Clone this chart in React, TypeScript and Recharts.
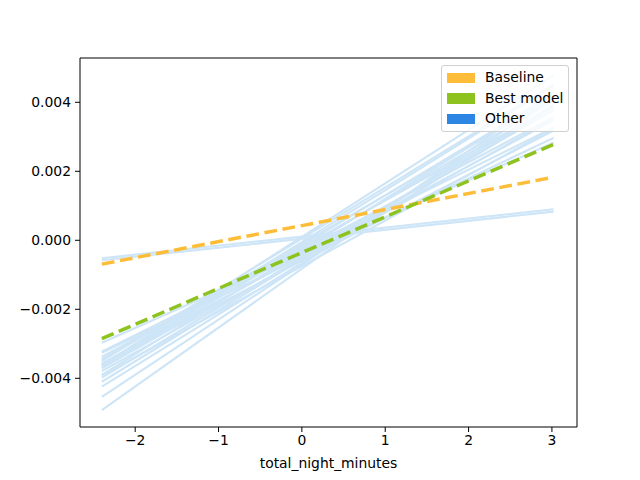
import React from 'react';
import { LineChart, Line, XAxis, YAxis, ReferenceArea, Legend } from 'recharts';

const xEnds = [-2.4, 3.02];

const baselineValues = [-0.00069, 0.00183];
const bestModelValues = [-0.00285, 0.00278];

const otherStart = [
  -0.00362, -0.0035, -0.00365, -0.00346, -0.00363, -0.00344, -0.00366, -0.00337,
  -0.0039, -0.00323, -0.00371, -0.00297, -0.00357, -0.00398, -0.00326, -0.00379,
  -0.0041, -0.0036, -0.00424, -0.00454, -0.00492, -0.00392, -0.00052, -0.00058,
];
const otherEnd = [
  0.00478, 0.00452, 0.00448, 0.00413, 0.00423, 0.00388, 0.00404, 0.00357,
  0.00423, 0.00327, 0.00377, 0.00283, 0.00348, 0.00388, 0.00297, 0.00353,
  0.00393, 0.00318, 0.00385, 0.00413, 0.00433, 0.00324, 0.0009, 0.00083,
];

const xTicks = [-2, -1, 0, 1, 2, 3];
const yTicks = [-0.004, -0.002, 0, 0.002, 0.004];
const xDomain = [-2.662, 3.301];
const yDomain = [-0.005412, 0.005284];

const legendItems = [
  { label: 'Baseline', color: '#FEBD38' },
  { label: 'Best model', color: '#8DC21F' },
  { label: 'Other', color: '#2E86E4' },
];

const toSeries = (vals: number[]) => xEnds.map((x, i) => ({ x, y: vals[i] }));

const baselineData = toSeries(baselineValues);
const bestData = toSeries(bestModelValues);
const otherData = otherStart.map((s, i) => toSeries([s, otherEnd[i]]));

const fmtMinus = (s: string) => s.replace('-', '\u2212');
const fmtX = (v: number) => fmtMinus(String(v));
const fmtY = (v: number) => fmtMinus(v.toFixed(3));

const FONT = 'DejaVu Sans, sans-serif';

const LegendBox = () => (
  <div
    style={{
      position: 'absolute',
      left: 441,
      top: 65,
      width: 128,
      height: 67,
      boxSizing: 'border-box',
      border: '1px solid #d0d0d0',
      borderRadius: 3,
      background: 'rgba(255,255,255,0.8)',
      fontFamily: FONT,
      fontSize: 13.9,
      color: '#000',
    }}
  >
    {legendItems.map((it, i) => (
      <div
        key={it.label}
        style={{ position: 'absolute', left: 0, top: 5 + i * 20.7, height: 14, width: 126, lineHeight: '14px' }}
      >
        <span
          style={{
            position: 'absolute',
            left: 4.5,
            top: 1.5,
            width: 28,
            height: 10.5,
            background: it.color,
          }}
        />
        <span style={{ position: 'absolute', left: 43, top: -1, whiteSpace: 'nowrap' }}>{it.label}</span>
      </div>
    ))}
  </div>
);

export default function App() {
  return (
    <div style={{ position: 'absolute', left: 0, top: 0, width: 640, height: 480, background: '#fff' }}>
      <LineChart
        width={640}
        height={480}
        margin={{ top: 58, right: 63, bottom: 0, left: 0 }}
        style={{ fontFamily: FONT }}
      >
        <XAxis
          dataKey="x"
          type="number"
          domain={xDomain}
          ticks={xTicks}
          allowDataOverflow
          tickFormatter={fmtX}
          height={53}
          axisLine={false}
          tickLine={{ stroke: '#000' }}
          tickSize={5}
          tickMargin={3}
          tick={{ fill: '#000', fontSize: 13.9 }}
          label={{ value: 'total_night_minutes', position: 'insideBottom', offset: 12, fill: '#000', fontSize: 13.9 }}
        />
        <YAxis
          type="number"
          domain={yDomain}
          ticks={yTicks}
          allowDataOverflow
          tickFormatter={fmtY}
          width={80}
          axisLine={false}
          tickLine={{ stroke: '#000' }}
          tickSize={5}
          tickMargin={4}
          tick={{ fill: '#000', fontSize: 13.9 }}
        />
        {otherData.map((d, i) => (
          <Line
            key={'o' + i}
            data={d}
            dataKey="y"
            stroke="#CDE5F6"
            strokeWidth={2.1}
            dot={false}
            activeDot={false}
            isAnimationActive={false}
            legendType="none"
          />
        ))}
        <Line
          data={baselineData}
          dataKey="y"
          stroke="#FEBD38"
          strokeWidth={3.5}
          strokeDasharray="12.8 5.6"
          dot={false}
          activeDot={false}
          isAnimationActive={false}
        />
        <Line
          data={bestData}
          dataKey="y"
          stroke="#8DC21F"
          strokeWidth={3.5}
          strokeDasharray="12.8 5.6"
          dot={false}
          activeDot={false}
          isAnimationActive={false}
        />
        <ReferenceArea
          x1={xDomain[0]}
          x2={xDomain[1]}
          y1={yDomain[0]}
          y2={yDomain[1]}
          fill="none"
          stroke="#000"
          strokeWidth={1}
          ifOverflow="visible"
        />
        <Legend
          layout="horizontal"
          verticalAlign="middle"
          align="center"
          content={() => <LegendBox />}
          wrapperStyle={{ position: 'absolute', left: 0, top: 0, width: 0, height: 0 }}
        />
      </LineChart>
    </div>
  );
}
